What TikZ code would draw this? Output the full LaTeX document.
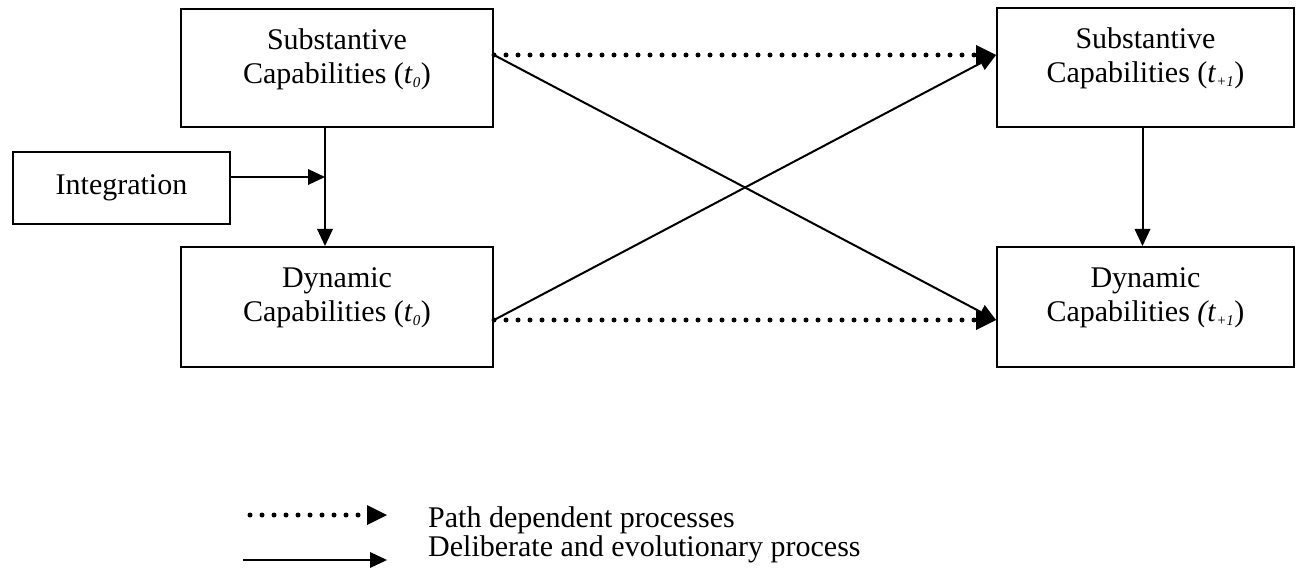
\documentclass[tikz,border=0pt]{standalone}
\usepackage{fontspec}
\setmainfont{Liberation Serif}
\usetikzlibrary{arrows.meta}

% 框内文字上移用的空行
\newcommand{\boxpad}{\\[-20pt]\strut}
% 小号斜体下标
\newcommand{\tsub}[1]{\textsubscript{\fontsize{15}{15}\selectfont\textit{#1}}}

\begin{document}
\begin{tikzpicture}[x=1pt, y=-1pt,
		every node/.style={font=\fontsize{30}{34}\selectfont},
		capbox/.style={draw, line width=2pt, align=center, inner sep=0pt},
		solidline/.style={-{Triangle[length=17pt, width=16pt, line width=0pt]}, line width=2pt},
		dotline/.style={-{Triangle[length=20pt, width=20pt, line width=0pt]}, line width=5pt,
			line cap=round, dash pattern=on 0pt off 12pt}]
	% ================= 画布大小 =================
	\useasboundingbox (0,0) rectangle (1296,572);
	
	% 1. 左侧 t0 能力框
	\node[capbox, minimum width=312pt, minimum height=118pt] (sub0) at (337,68)
		{Substantive\\Capabilities (\textit{t}\tsub{0})\boxpad};
	\node[capbox, minimum width=312pt, minimum height=120pt] (dyn0) at (337,307)
		{Dynamic\\Capabilities (\textit{t}\tsub{0})\boxpad};
	\node[capbox, minimum width=217pt, minimum height=72pt] (integ) at (121.5,188) {Integration};
	
	% 2. 右侧 t+1 能力框
	\node[capbox, minimum width=297pt, minimum height=119pt] (sub1) at (1145.5,67.5)
		{Substantive\\Capabilities (\textit{t}\tsub{+1})\boxpad};
	\node[capbox, minimum width=297pt, minimum height=120pt] (dyn1) at (1145.5,307)
		{Dynamic\\Capabilities \textit{(t}\tsub{+1})\boxpad};
	
	% 3. 连接点
	\coordinate (s0out) at ([yshift=13pt]sub0.east);
	\coordinate (d0out) at ([yshift=-13pt]dyn0.east);
	\coordinate (leftx) at ([xshift=-12pt]sub0.south);
	\coordinate (intout) at ([yshift=11pt]integ.east);
	
	% 4. 竖向与整合箭头
	\draw[solidline] (leftx) -- (leftx |- dyn0.north);
	\draw[solidline] (intout) -- (intout -| leftx);
	\draw[solidline] ([xshift=-3pt]sub1.south) -- ([xshift=-3pt]dyn1.north);
	
	% 5. 交叉实线
	\draw[solidline] (s0out) -- (d0out -| dyn1.west);
	\draw[solidline] (d0out) -- (s0out -| sub1.west);
	
	% 6. 路径依赖虚线
	\draw[dotline] (s0out) -- (s0out -| sub1.west);
	\draw[dotline] (d0out) -- (d0out -| dyn1.west);
	
	% ================= 图例 =================
	\coordinate (dotstart) at (250,515);
	\coordinate (dotend) at (387,515);
	\coordinate (linestart) at (243,560);
	\coordinate (lineend) at (387,560);
	\draw[dotline] (dotstart) -- (dotend);
	\draw[solidline] (linestart) -- (lineend);
	\node[anchor=base west, inner sep=0pt] (legdot) at (428,527) {Path dependent processes};
	\node[anchor=base west, inner sep=0pt] (legline) at (428,556) {Deliberate and evolutionary process};
\end{tikzpicture}
\end{document}
